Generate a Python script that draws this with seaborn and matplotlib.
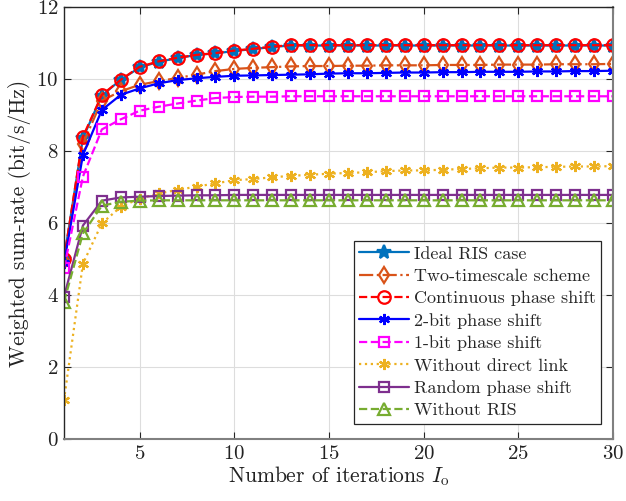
import matplotlib
matplotlib.use("Agg")
import matplotlib.pyplot as plt
import seaborn as sns
import numpy as np

iterations = list(range(1, 31))

ideal_ris = [5.00, 8.36, 9.54, 9.98, 10.32, 10.48, 10.58, 10.67, 10.71, 10.78, 10.83, 10.89, 10.93,
             10.93, 10.93, 10.93, 10.93, 10.93, 10.93, 10.93, 10.93, 10.93, 10.93, 10.93, 10.93,
             10.93, 10.93, 10.93, 10.93, 10.93]
two_timescale = [4.95, 8.20, 9.40, 9.66, 9.84, 9.94, 10.03, 10.12, 10.22, 10.28, 10.31, 10.33, 10.35,
                 10.36, 10.36, 10.37, 10.37, 10.38, 10.38, 10.38, 10.39, 10.39, 10.39, 10.40, 10.40,
                 10.40, 10.41, 10.41, 10.41, 10.42]
continuous = [4.99, 8.40, 9.56, 9.98, 10.34, 10.49, 10.59, 10.67, 10.72, 10.79, 10.84, 10.90, 10.94,
              10.94, 10.94, 10.94, 10.94, 10.94, 10.94, 10.94, 10.94, 10.94, 10.94, 10.94, 10.94,
              10.94, 10.94, 10.94, 10.94, 10.94]
two_bit = [4.88, 7.89, 9.14, 9.56, 9.74, 9.88, 9.97, 10.02, 10.06, 10.09, 10.10, 10.11, 10.12,
           10.13, 10.15, 10.16, 10.16, 10.17, 10.18, 10.18, 10.19, 10.19, 10.20, 10.20, 10.20,
           10.21, 10.21, 10.22, 10.22, 10.23]
one_bit = [4.74, 7.29, 8.60, 8.88, 9.12, 9.23, 9.32, 9.40, 9.47, 9.50, 9.51, 9.51, 9.52,
           9.52, 9.52, 9.52, 9.52, 9.52, 9.52, 9.52, 9.52, 9.52, 9.52, 9.52, 9.52,
           9.52, 9.52, 9.52, 9.52, 9.52]
no_direct = [1.08, 4.87, 5.99, 6.45, 6.68, 6.82, 6.92, 7.01, 7.10, 7.19, 7.22, 7.27, 7.31,
             7.34, 7.37, 7.39, 7.41, 7.44, 7.46, 7.46, 7.48, 7.50, 7.52, 7.54, 7.54,
             7.55, 7.56, 7.57, 7.57, 7.58]
random_phase = [3.95, 5.93, 6.62, 6.71, 6.73, 6.75, 6.76, 6.77, 6.77, 6.78, 6.78, 6.78, 6.78,
                6.78, 6.78, 6.78, 6.78, 6.78, 6.78, 6.78, 6.78, 6.78, 6.78, 6.78, 6.78,
                6.78, 6.78, 6.78, 6.78, 6.78]
no_ris = [3.81, 5.71, 6.48, 6.59, 6.62, 6.63, 6.63, 6.63, 6.63, 6.63, 6.63, 6.63, 6.63,
          6.63, 6.63, 6.63, 6.63, 6.63, 6.63, 6.63, 6.63, 6.63, 6.63, 6.63, 6.63,
          6.63, 6.63, 6.63, 6.63, 6.63]

labels = ["Ideal RIS case", "Two-timescale scheme", "Continuous phase shift",
          "2-bit phase shift", "1-bit phase shift", "Without direct link",
          "Random phase shift", "Without RIS"]
series = [ideal_ris, two_timescale, continuous, two_bit, one_bit, no_direct, random_phase, no_ris]
colors = ["#0072BD", "#D95319", "#FF0000", "#0000FF", "#FF00FF", "#EDB120", "#7E2F8E", "#77AC30"]
styles = ["-", "-.", "--", "-", "--", ":", "-", "--"]
markers = ["*", "d", "o", (6, 2, 0), "s", (6, 2, 0), "s", "^"]
filled = [True, False, False, True, False, True, False, False]
msizes = [10, 8, 9, 8, 7, 8, 7, 9]

sns.set_style("ticks")
plt.rcParams["font.family"] = ["cmr10", "DejaVu Serif"]
plt.rcParams["mathtext.fontset"] = "cm"
plt.rcParams["axes.formatter.use_mathtext"] = True

fig, ax = plt.subplots(figsize=(6.26, 5.01), dpi=100)
fig.subplots_adjust(left=64/626, right=613/626, top=1-7/501, bottom=1-439/501)

for y, lab, c, ls, m, f, ms in zip(series, labels, colors, styles, markers, filled, msizes):
    sns.lineplot(x=iterations, y=y, ax=ax, color=c, linestyle=ls, marker=m,
                 markersize=ms, linewidth=1.6, label=lab,
                 markerfacecolor=(c if f else "none"), markeredgecolor=c,
                 markeredgewidth=1.6)

ax.set_xlim(1, 30)
ax.set_ylim(0, 12)
ax.set_xticks([5, 10, 15, 20, 25, 30])
ax.set_yticks([0, 2, 4, 6, 8, 10, 12])
ax.grid(True, color="#dddddd", linewidth=0.8)
ax.tick_params(direction="in", top=True, right=True, labelsize=15, length=5,
               colors="#262626", pad=4)
for lbl in ax.get_xticklabels() + ax.get_yticklabels():
    lbl.set_color("#222222")
for name, sp in ax.spines.items():
    sp.set_visible(True)
    if name in ("bottom", "right"):
        sp.set_color("#808080")
        sp.set_linewidth(1.5)
    else:
        sp.set_color("#262626")
        sp.set_linewidth(1.0)

ax.set_xlabel(r"Number of iterations $I_{\rm o}$", fontsize=15.5, labelpad=1, color="#222222")
ax.set_ylabel("Weighted sum-rate (bit/s/Hz)", fontsize=15.5, labelpad=4, color="#222222")

leg = ax.legend(loc="lower right", fontsize=13, handlelength=2.75, frameon=True,
                fancybox=False, edgecolor="#262626", framealpha=1,
                borderpad=0.3, labelspacing=0.37, handletextpad=0.25,
                borderaxespad=0, bbox_to_anchor=(0.978, 0.035))
leg.get_frame().set_linewidth(0.9)

fig.savefig("out.png", dpi=100)
